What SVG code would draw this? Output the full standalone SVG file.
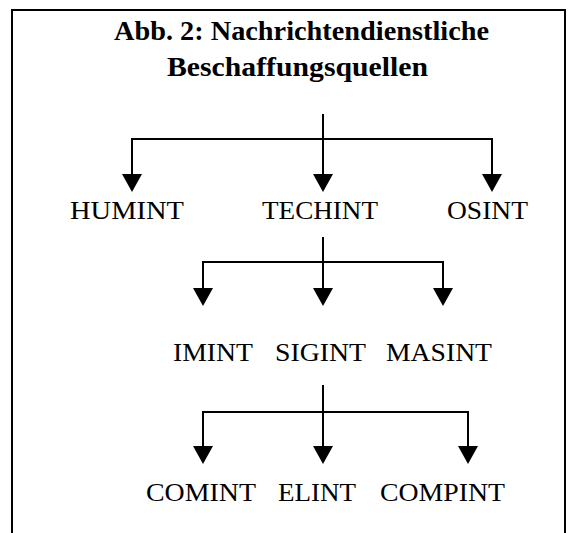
<svg xmlns="http://www.w3.org/2000/svg" width="576" height="533" viewBox="0 0 576 533">
  <style>
    .t { font-family: "Liberation Serif", "Times New Roman", serif; font-size: 26px; fill: #000; }
    .h { font-family: "Liberation Serif", "Times New Roman", serif; font-size: 28px; font-weight: bold; fill: #000; }
    .c { stroke: #000; stroke-width: 2; fill: none; }
    .frame { stroke: #000; stroke-width: 2; fill: none; }
  </style>
  <defs>
    <marker id="arrow" markerUnits="userSpaceOnUse" viewBox="0 0 18 20" markerWidth="18" markerHeight="20" refX="14" refY="10" orient="auto">
      <path d="M0,0 L18,10 L0,20 z" fill="#000"/>
    </marker>
  </defs>
  <rect width="576" height="533" fill="#fff"/>
  <path class="frame" d="M12,540 L12,10 L565,10 L565,540"/>
  <g id="title">
    <text class="h" x="114" y="40" textLength="375" lengthAdjust="spacingAndGlyphs">Abb. 2: Nachrichtendienstliche</text>
    <text class="h" x="167" y="76" textLength="261" lengthAdjust="spacingAndGlyphs">Beschaffungsquellen</text>
  </g>
  <g id="connectors">
    <path class="c" d="M323,114 L323,139 M132,139 L492,139"/>
    <line class="c" x1="132" y1="138" x2="132" y2="188" marker-end="url(#arrow)"/>
    <line class="c" x1="323" y1="139" x2="323" y2="188" marker-end="url(#arrow)"/>
    <line class="c" x1="492" y1="138" x2="492" y2="188" marker-end="url(#arrow)"/>
    <path class="c" d="M323,237 L323,262 M203,262 L443,262"/>
    <line class="c" x1="203" y1="261" x2="203" y2="302" marker-end="url(#arrow)"/>
    <line class="c" x1="323" y1="262" x2="323" y2="302" marker-end="url(#arrow)"/>
    <line class="c" x1="443" y1="261" x2="443" y2="302" marker-end="url(#arrow)"/>
    <path class="c" d="M323,385 L323,412 M203,412 L468,412"/>
    <line class="c" x1="203" y1="411" x2="203" y2="460" marker-end="url(#arrow)"/>
    <line class="c" x1="323" y1="412" x2="323" y2="460" marker-end="url(#arrow)"/>
    <line class="c" x1="468" y1="411" x2="468" y2="460" marker-end="url(#arrow)"/>
  </g>
  <g id="humint"><text class="t" x="70" y="219" textLength="114" lengthAdjust="spacingAndGlyphs">HUMINT</text></g>
  <g id="techint"><text class="t" x="262" y="219" textLength="116" lengthAdjust="spacingAndGlyphs">TECHINT</text></g>
  <g id="osint"><text class="t" x="447" y="219" textLength="81" lengthAdjust="spacingAndGlyphs">OSINT</text></g>
  <g id="imint"><text class="t" x="173" y="361" textLength="80" lengthAdjust="spacingAndGlyphs">IMINT</text></g>
  <g id="sigint"><text class="t" x="275" y="361" textLength="91" lengthAdjust="spacingAndGlyphs">SIGINT</text></g>
  <g id="masint"><text class="t" x="386" y="361" textLength="106" lengthAdjust="spacingAndGlyphs">MASINT</text></g>
  <g id="comint"><text class="t" x="146" y="501" textLength="110" lengthAdjust="spacingAndGlyphs">COMINT</text></g>
  <g id="elint"><text class="t" x="278" y="501" textLength="78" lengthAdjust="spacingAndGlyphs">ELINT</text></g>
  <g id="compint"><text class="t" x="380" y="501" textLength="125" lengthAdjust="spacingAndGlyphs">COMPINT</text></g>
</svg>
